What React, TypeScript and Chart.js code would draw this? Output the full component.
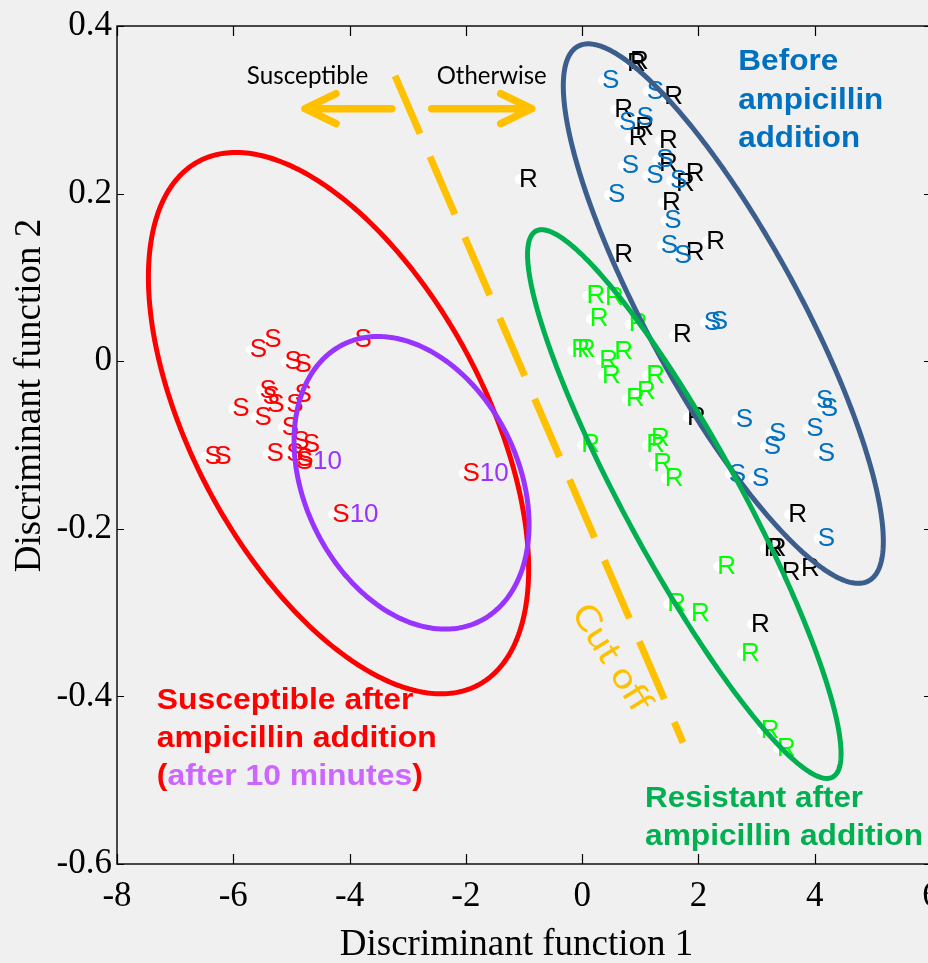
import React, { useEffect, useRef } from "react";
import { Chart, registerables } from "chart.js";

Chart.register(...registerables);

type P = [number, number];

// ---------- axes ----------
const xTickValues = [-8, -6, -4, -2, 0, 2, 4, 6];
const yTickValues = [-0.6, -0.4, -0.2, 0, 0.2, 0.4];
const xAxisTitle = "Discriminant function 1";
const yAxisTitle = "Discriminant function 2";

// ---------- data (discriminant function 1, discriminant function 2) ----------
const beforeResistant: P[] = [
  [0.79, 0.355], [0.84, 0.357], [1.43, 0.315], [0.57, 0.3], [0.93, 0.279],
  [0.82, 0.266], [1.34, 0.263], [1.34, 0.236], [1.8, 0.224], [1.63, 0.212],
  [1.39, 0.189], [1.8, 0.129], [2.15, 0.143], [0.57, 0.127], [-1.07, 0.217],
  [1.58, 0.031], [1.82, -0.067], [3.56, -0.183], [3.14, -0.224], [3.21, -0.224],
  [3.45, -0.253], [3.78, -0.248], [2.92, -0.314],
];
const beforeSusceptible: P[] = [
  [0.36, 0.335], [1.13, 0.322], [0.95, 0.29], [0.65, 0.284], [0.7, 0.233],
  [1.29, 0.24], [1.12, 0.221], [1.53, 0.215], [0.46, 0.198], [1.43, 0.168],
  [1.37, 0.138], [1.6, 0.126], [2.11, 0.046], [2.23, 0.047], [2.66, -0.07],
  [3.23, -0.087], [3.14, -0.102], [3.87, -0.081], [4.04, -0.047], [4.12, -0.057],
  [4.07, -0.11], [2.54, -0.135], [2.94, -0.14], [4.07, -0.212],
];
const afterResistant: P[] = [
  [0.09, 0.078], [0.41, 0.076], [0.15, 0.05], [0.82, 0.044], [-0.17, 0.013],
  [-0.07, 0.013], [0.57, 0.011], [0.31, 0.001], [0.36, -0.017], [1.12, -0.017],
  [0.96, -0.037], [0.77, -0.045], [0.0, -0.1], [1.2, -0.093], [1.12, -0.1],
  [1.24, -0.123], [1.44, -0.14], [2.34, -0.245], [1.48, -0.29], [1.89, -0.302],
  [2.75, -0.349], [3.09, -0.441], [3.37, -0.462],
];
const afterSusceptible: P[] = [
  [-3.9, 0.026], [-5.45, 0.025], [-5.7, 0.013], [-5.1, -0.001], [-4.93, -0.004],
  [-4.93, -0.04], [-5.07, -0.052], [-5.53, -0.035], [-5.48, -0.043], [-5.4, -0.052],
  [-5.62, -0.067], [-6.0, -0.057], [-5.15, -0.079], [-4.97, -0.096], [-4.79, -0.1],
  [-5.41, -0.111], [-5.07, -0.111], [-4.9, -0.117], [-6.48, -0.114], [-6.31, -0.114],
];
const after10Susceptible: P[] = [
  [-4.91, -0.12], [-2.04, -0.134], [-4.28, -0.183],
];

const groups = [
  { data: beforeResistant, label: "R", color: "#000000", suffix: "", suffixColor: "" },
  { data: beforeSusceptible, label: "S", color: "#0070c0", suffix: "", suffixColor: "" },
  { data: afterResistant, label: "R", color: "#00ff00", suffix: "", suffixColor: "" },
  { data: afterSusceptible, label: "S", color: "#ff0000", suffix: "", suffixColor: "" },
  { data: after10Susceptible, label: "S", color: "#ff0000", suffix: "10", suffixColor: "#9933ff" },
];

// ---------- ellipses: [centre x, centre y, half width, half height, x offset of top point] ----------
const ellipseSusceptibleAfter = [-4.19, -0.0739, 3.27, 0.323, -1.763];
const ellipseAfter10 = [-2.934, -0.1451, 2.021, 0.1746, -0.576];
const ellipseBefore = [2.428, 0.0568, 2.752, 0.3219, -2.322];
const ellipseResistantAfter = [1.757, -0.1705, 2.696, 0.3274, -2.452];

const ellipses = [
  { p: ellipseSusceptibleAfter, color: "#ff0000" },
  { p: ellipseAfter10, color: "#9933ff" },
  { p: ellipseBefore, color: "#3b5e8c" },
  { p: ellipseResistantAfter, color: "#00b050" },
];

// ---------- cut-off line and arrows (data coords) ----------
const cutoffLine: P[] = [[-3.218, 0.3406], [1.736, -0.4551]];
const leftArrow: P[] = [[-3.275, 0.3014], [-4.766, 0.3014]];
const rightArrow: P[] = [[-2.587, 0.3014], [-0.867, 0.3014]];

// ---------- text annotations (left/baseline anchor in data coords) ----------
type Ann = { x: number; y: number; font: string; width: number; angle?: number; parts: [string, string][] };
const annotations: Ann[] = [
  { x: -5.768, y: 0.3311, font: "25px Lato", width: 121.6, parts: [["Susceptible", "#000000"]] },
  { x: -2.501, y: 0.3311, font: "25px Lato", width: 110, parts: [["Otherwise", "#000000"]] },
  { x: 2.686, y: 0.3469, font: "bold 30px 'Liberation Sans'", width: 100, parts: [["Before", "#0070c0"]] },
  { x: 2.686, y: 0.3014, font: "bold 30px 'Liberation Sans'", width: 145, parts: [["ampicillin", "#0070c0"]] },
  { x: 2.686, y: 0.2559, font: "bold 30px 'Liberation Sans'", width: 121.7, parts: [["addition", "#0070c0"]] },
  { x: -7.316, y: -0.4151, font: "bold 30px 'Liberation Sans'", width: 256.7, parts: [["Susceptible after", "#ff0000"]] },
  { x: -7.316, y: -0.4607, font: "bold 30px 'Liberation Sans'", width: 280, parts: [["ampicillin addition", "#ff0000"]] },
  {
    x: -7.316, y: -0.5062, font: "bold 30px 'Liberation Sans'", width: 266,
    parts: [["(", "#ff0000"], ["after 10 minutes", "#cc66ff"], [")", "#ff0000"]],
  },
  { x: 1.082, y: -0.5319, font: "bold 30px 'Liberation Sans'", width: 218, parts: [["Resistant after", "#00b050"]] },
  { x: 1.082, y: -0.5774, font: "bold 30px 'Liberation Sans'", width: 278, parts: [["ampicillin addition", "#00b050"]] },
  { x: -0.2, y: -0.3, font: "35px Lato", width: 121, angle: 58, parts: [["Cut off", "#ffc000"]] },
];

const ORANGE = "#ffc000";
const SERIF = "'Liberation Serif', 'Times New Roman', serif";

function fmt(v: number) {
  const r = Math.round(v * 10) / 10;
  return String(r === 0 ? 0 : r);
}

const overlayPlugin = {
  id: "overlay",
  beforeDraw(chart: any) {
    const { ctx, width, height } = chart;
    ctx.save();
    ctx.fillStyle = "#f0f0f0";
    ctx.fillRect(0, 0, width, height);
    ctx.restore();
  },
  afterDatasetsDraw(chart: any) {
    const ctx: CanvasRenderingContext2D = chart.ctx;
    const xs = chart.scales.x;
    const ys = chart.scales.y;
    const X = (v: number) => xs.getPixelForValue(v);
    const Y = (v: number) => ys.getPixelForValue(v);
    const area = chart.chartArea;

    // point letters
    ctx.save();
    ctx.font = "26px 'Liberation Sans', Arial, sans-serif";
    ctx.textBaseline = "middle";
    ctx.textAlign = "left";
    groups.forEach((g, i) => {
      const meta = chart.getDatasetMeta(i);
      meta.data.forEach((el: any) => {
        const x = el.x - 1;
        const y = el.y;
        ctx.fillStyle = g.color;
        ctx.fillText(g.label, x, y);
        if (g.suffix) {
          const w = ctx.measureText(g.label).width;
          ctx.fillStyle = g.suffixColor;
          ctx.fillText(g.suffix, x + w, y);
        }
      });
    });
    ctx.restore();

    // ellipses
    const sx = Math.abs(X(1) - X(0));
    const sy = Math.abs(Y(1) - Y(0));
    ellipses.forEach((e) => {
      const [cx, cy, hw, hh, tx] = e.p;
      const PX = X(cx), PY = Y(cy);
      const HW = hw * sx, HH = hh * sy;
      const B = -tx * sx * HH;
      const l21 = B / HW;
      const l22 = Math.sqrt(Math.max(HH * HH - l21 * l21, 1));
      ctx.save();
      ctx.strokeStyle = e.color;
      ctx.lineWidth = 5;
      ctx.lineJoin = "round";
      ctx.beginPath();
      const n = 360;
      for (let k = 0; k <= n; k++) {
        const t = (k / n) * Math.PI * 2;
        const px = PX + HW * Math.cos(t);
        const py = PY + l21 * Math.cos(t) + l22 * Math.sin(t);
        if (k === 0) ctx.moveTo(px, py); else ctx.lineTo(px, py);
      }
      ctx.closePath();
      ctx.stroke();
      ctx.restore();
    });

    // cut-off dashed line
    ctx.save();
    ctx.strokeStyle = ORANGE;
    ctx.lineWidth = 7;
    ctx.lineCap = "butt";
    ctx.setLineDash([63, 25]);
    ctx.beginPath();
    ctx.moveTo(X(cutoffLine[0][0]), Y(cutoffLine[0][1]));
    ctx.lineTo(X(cutoffLine[1][0]), Y(cutoffLine[1][1]));
    ctx.stroke();
    ctx.restore();

    // arrows
    const drawArrow = (a: P[]) => {
      const x0 = X(a[0][0]), y0 = Y(a[0][1]);
      const x1 = X(a[1][0]), y1 = Y(a[1][1]);
      const dir = Math.sign(x1 - x0);
      ctx.save();
      ctx.strokeStyle = ORANGE;
      ctx.lineWidth = 7.5;
      ctx.lineCap = "round";
      ctx.lineJoin = "round";
      ctx.beginPath();
      ctx.moveTo(x0, y0);
      ctx.lineTo(x1, y1);
      ctx.moveTo(x1 - dir * 31, y1 - 15);
      ctx.lineTo(x1, y1);
      ctx.lineTo(x1 - dir * 31, y1 + 15);
      ctx.stroke();
      ctx.restore();
    };
    drawArrow(leftArrow);
    drawArrow(rightArrow);

    // text annotations
    annotations.forEach((a) => {
      ctx.save();
      ctx.font = a.font;
      ctx.textBaseline = "alphabetic";
      ctx.textAlign = "left";
      const total = a.parts.reduce((s, [t]) => s + ctx.measureText(t).width, 0);
      ctx.translate(X(a.x), Y(a.y));
      if (a.angle) ctx.rotate((a.angle * Math.PI) / 180);
      ctx.scale(a.width / total, 1);
      let cx = 0;
      a.parts.forEach(([t, c]) => {
        ctx.fillStyle = c;
        ctx.fillText(t, cx, 0);
        cx += ctx.measureText(t).width;
      });
      ctx.restore();
    });

    // frame and inward ticks
    ctx.save();
    ctx.strokeStyle = "#000";
    ctx.lineWidth = 1.4;
    ctx.strokeRect(area.left, area.top, area.right - area.left, area.bottom - area.top);
    ctx.lineWidth = 1.2;
    ctx.beginPath();
    xTickValues.forEach((v) => {
      const px = Math.round(X(v)) + 0.5;
      ctx.moveTo(px, area.bottom);
      ctx.lineTo(px, area.bottom - 10);
      ctx.moveTo(px, area.top);
      ctx.lineTo(px, area.top + 10);
    });
    yTickValues.forEach((v) => {
      const py = Math.round(Y(v)) + 0.5;
      ctx.moveTo(area.left, py);
      ctx.lineTo(area.left + 7, py);
      ctx.moveTo(area.right, py);
      ctx.lineTo(area.right - 7, py);
    });
    ctx.stroke();

    // axis titles
    ctx.fillStyle = "#000";
    ctx.font = `37px ${SERIF}`;
    ctx.textAlign = "center";
    ctx.textBaseline = "alphabetic";
    ctx.fillText(xAxisTitle, 516.5, 955);
    ctx.translate(40, 395.5);
    ctx.rotate(-Math.PI / 2);
    ctx.fillText(yAxisTitle, 0, 0);
    ctx.restore();
  },
};

export default function App() {
  const canvasRef = useRef<HTMLCanvasElement | null>(null);

  useEffect(() => {
    if (!canvasRef.current) return;
    const chart = new Chart(canvasRef.current, {
      type: "scatter",
      data: {
        datasets: groups.map((g) => ({
          data: g.data.map(([x, y]) => ({ x, y })),
          pointRadius: 5,
          pointHoverRadius: 5,
          pointBackgroundColor: "#ffffff",
          pointBorderWidth: 0,
          pointBorderColor: "rgba(0,0,0,0)",
          showLine: false,
        })),
      },
      options: {
        animation: false,
        responsive: false,
        devicePixelRatio: 1,
        events: [],
        layout: { padding: { left: 0, top: 22, right: 29, bottom: 0 } },
        plugins: { legend: { display: false }, tooltip: { enabled: false } },
        scales: {
          x: {
            type: "linear",
            position: "bottom",
            min: -8,
            max: 6,
            afterBuildTicks: (s: any) => {
              s.ticks = xTickValues.map((v) => ({ value: v }));
            },
            afterFit: (s: any) => {
              s.height = 99;
            },
            grid: { display: false, drawTicks: false },
            border: { display: false },
            ticks: {
              font: { family: SERIF, size: 35 },
              color: "#000",
              padding: 12,
              maxRotation: 0,
              autoSkip: false,
              callback: (v: any) => fmt(Number(v)),
            },
          },
          y: {
            type: "linear",
            position: "left",
            min: -0.6,
            max: 0.4,
            afterBuildTicks: (s: any) => {
              s.ticks = yTickValues.map((v) => ({ value: v }));
            },
            afterFit: (s: any) => {
              s.width = 117;
            },
            grid: { display: false, drawTicks: false },
            border: { display: false },
            ticks: {
              font: { family: SERIF, size: 35 },
              color: "#000",
              padding: 5,
              autoSkip: false,
              callback: (v: any) => fmt(Number(v)),
            },
          },
        },
      },
      plugins: [overlayPlugin],
    } as any);
    return () => chart.destroy();
  }, []);

  return (
    <div
      style={{
        position: "absolute",
        left: 0,
        top: 0,
        width: 928,
        height: 963,
        overflow: "hidden",
        background: "#f0f0f0",
      }}
    >
      <canvas ref={canvasRef} width={960} height={963} style={{ display: "block" }} />
    </div>
  );
}
